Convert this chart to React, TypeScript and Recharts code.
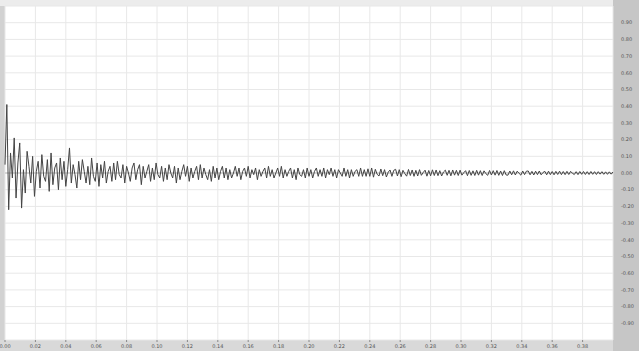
import { LineChart, Line, XAxis, YAxis, CartesianGrid, ReferenceLine } from "recharts";

// one amplitude value per sample (-1..1)
const SAMPLES = [
  0.05, 0.41, -0.22, 0.12, -0.03, 0.21, -0.15, 0.06, 0.18, -0.21, 0.02, -0.12,
  0.13, 0.04, -0.06, 0.1, -0.14, 0.01, 0.07, -0.09, 0.11, -0.02, -0.05, 0.08, -0.11, 0.12, -0.07, 0.03, 0.06, -0.1, 0.09,
  -0.04, 0.07, -0.08, 0.02, 0.15, -0.06, 0.05, -0.01, -0.09, 0.07, -0.04, 0.08, 0.01, -0.06, 0.04, -0.07, 0.09, -0.02, -0.05, 0.06,
  -0.08, 0.05, -0.03, 0.07, -0.06, 0.01, 0.04, -0.05, 0.06, -0.04, 0.07, -0.01, -0.03, 0.05, -0.06, 0.04, 0.0, -0.05, 0.03,
  0.06, -0.04, 0.02, 0.05, -0.07, 0.04, -0.03, 0.01, 0.05, -0.05, 0.03, -0.04, 0.06, -0.01, -0.03, 0.04, -0.05, 0.03, -0.04,
  0.05, 0.0, -0.03, 0.04, -0.06, 0.03, -0.04, 0.01, 0.05, -0.02, 0.04, -0.05, 0.03, -0.03, 0.01, 0.04, -0.04,
  0.05, -0.03, 0.03, -0.01, -0.04, 0.02, -0.05, 0.04, -0.03, 0.03, -0.04, 0.01,
  0.04, -0.03, 0.03, -0.04, 0.02, -0.03, 0.0, 0.04, -0.02, 0.03, -0.04, 0.01,
  0.03, -0.02, 0.04, -0.03, 0.02, -0.01, 0.03, -0.04, 0.02, -0.02, 0.01,
  0.03, -0.03, 0.04, -0.02, 0.02, -0.03, 0.0, 0.03, -0.02, 0.04, -0.03,
  0.02, -0.02, 0.01, 0.03, -0.03, 0.02, -0.04, 0.03, -0.01, -0.02, 0.02, -0.03,
  0.03, -0.02, 0.02, -0.03, 0.01, 0.03, -0.02, 0.02, -0.02, 0.03, -0.03,
  0.02, -0.01, 0.03, -0.02, 0.02, -0.03, 0.02, 0.0, -0.02, 0.03, -0.02,
  0.02, -0.03, 0.02, -0.02, 0.01, 0.02, -0.02, 0.03, -0.02, 0.02, -0.02,
  0.025, -0.02, 0.03,
  -0.025, 0.022, -0.008, -0.018, 0.024, -0.016, 0.02, -0.024, 0.005, 0.018, -0.02, 0.016,
  0.022, -0.018, 0.02, -0.022, 0.016, -0.004, -0.019, 0.021, -0.015, 0.018, -0.02,
  0.016, -0.018, 0.02, -0.014, 0.003, 0.017, -0.019, 0.015, -0.017, 0.019, -0.015,
  0.018, -0.016, 0.014, -0.018, 0.006, 0.017, -0.014, 0.016, -0.017, 0.018, -0.013,
  0.016, -0.015, 0.017, -0.013, 0.002, 0.014, -0.016, 0.015, -0.014, 0.013, -0.015,
  0.016, -0.013, 0.014, -0.015, 0.013, -0.004, -0.014, 0.015, -0.012, 0.014, -0.013,
  0.015, -0.014, 0.012, -0.015, 0.014, -0.012,
  -0.013, 0.012, -0.011, 0.013, -0.012, 0.011, -0.002, -0.013, 0.012, -0.01, 0.011,
  0.012, -0.011, 0.01, -0.012, 0.011, -0.01, 0.012, -0.011, 0.003, 0.01, -0.011,
  0.011, -0.01, 0.009, -0.011, 0.01, -0.009, 0.011, -0.01, 0.009, -0.01,
  0.01, -0.009, 0.01, -0.002, -0.009, 0.008, -0.01, 0.009, -0.008, 0.009, -0.009,
  0.008, -0.009, 0.009, -0.008, 0.008, -0.009, 0.008, -0.007, 0.008, -0.008,
  0.007, -0.008, 0.007, -0.007, 0.006,
];

const TIME_LABELS = [
  "0.00", "0.02", "0.04", "0.06", "0.08", "0.10", "0.12", "0.14", "0.16", "0.18",
  "0.20", "0.22", "0.24", "0.26", "0.28", "0.30", "0.32", "0.34", "0.36", "0.38",
];

const Y_TICKS = [0.9, 0.8, 0.7, 0.6, 0.5, 0.4, 0.3, 0.2, 0.1, 0, -0.1, -0.2, -0.3, -0.4, -0.5, -0.6, -0.7, -0.8, -0.9];

const data = SAMPLES.map((v, i) => ({ t: i, amp: v }));
const LAST = SAMPLES.length - 1;
const STEP = LAST / 20;
const X_TICKS = TIME_LABELS.map((_, i) => i * STEP);

export default function App() {
  return (
    <div
      style={{
        position: "absolute",
        top: 0,
        left: 0,
        width: 639,
        height: 351,
        background: "#ececec",
        fontFamily: "DejaVu Sans, sans-serif",
      }}
    >
      <div style={{ position: "absolute", left: 0, top: 6, width: 5, height: 334, background: "#d2d2d2" }} />
      <div style={{ position: "absolute", left: 613, top: 0, width: 26, height: 351, background: "#c6c6c6" }} />
      <div style={{ position: "absolute", left: 0, top: 340, width: 613, height: 11, background: "#d9d9d9" }} />

      <div style={{ position: "absolute", top: 0, left: 0 }}>
        <LineChart width={639} height={351} data={data} margin={{ top: 6, right: 0, bottom: 0, left: 5 }}>
          <CartesianGrid stroke="#e8e8e8" fill="#ffffff" />
          <XAxis
            dataKey="t"
            type="number"
            domain={[0, LAST]}
            ticks={X_TICKS}
            interval={0}
            height={11}
            axisLine={false}
            tickLine={{ stroke: "#888" }}
            tickSize={2}
            tickFormatter={(v: number) => TIME_LABELS[Math.round(v / STEP)]}
            tick={{ fontSize: 5, fill: "#555" }}
          />
          <YAxis
            orientation="right"
            type="number"
            domain={[-1, 1]}
            ticks={Y_TICKS}
            interval={0}
            width={26}
            axisLine={false}
            tickLine={false}
            tickFormatter={(v: number) => v.toFixed(2)}
            tick={{ fontSize: 5, fill: "#555" }}
          />
          <ReferenceLine y={0} stroke="#bdbdbd" />
          <Line
            dataKey="amp"
            stroke="#444444"
            strokeWidth={1}
            dot={false}
            isAnimationActive={false}
          />
        </LineChart>
      </div>
    </div>
  );
}
